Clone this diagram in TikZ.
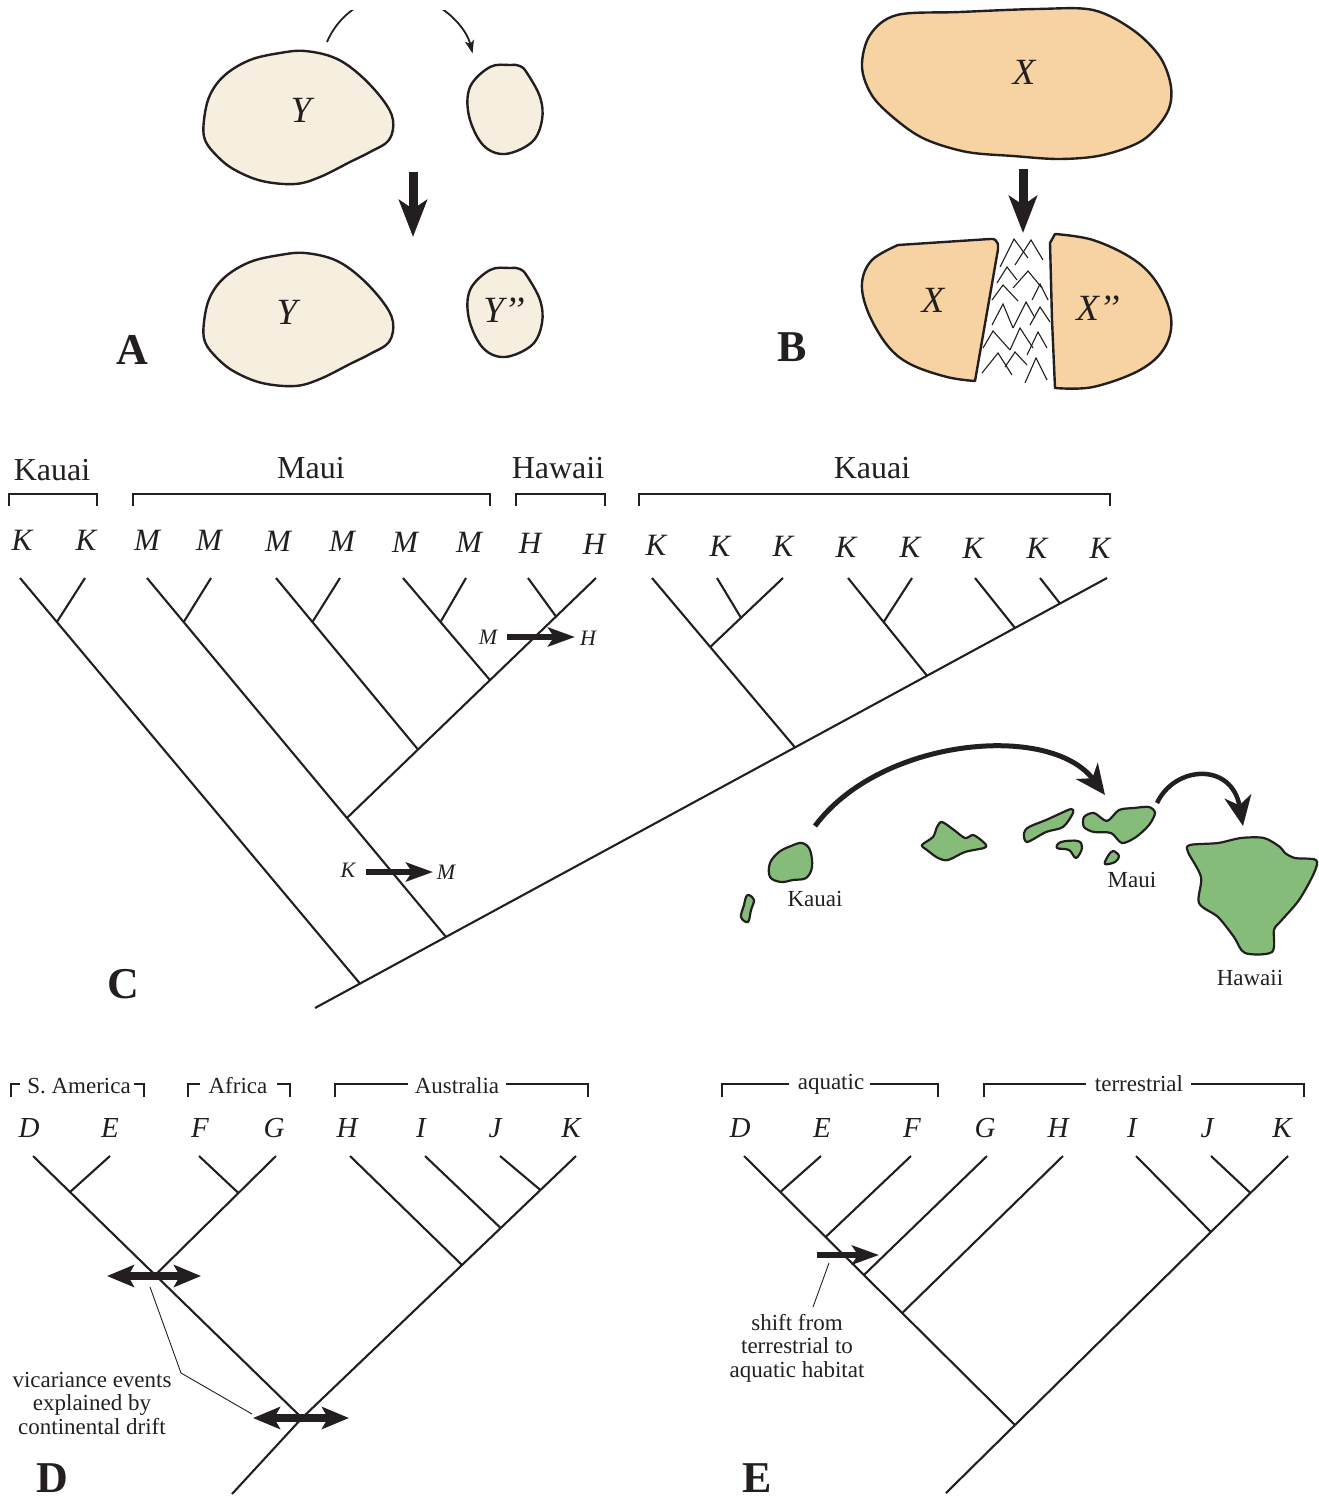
\documentclass[tikz,border=0pt]{standalone}
\usepackage{fontspec}
\setmainfont{Liberation Serif}
\usetikzlibrary{arrows.meta}
\definecolor{ink}{HTML}{231F20}
\definecolor{creamA}{HTML}{F6EEDF}
\definecolor{peachB}{HTML}{F7D3A3}
\definecolor{isle}{HTML}{86BC7A}
\tikzset{
 branch/.style={draw=ink, line width=2.1pt},
 brk/.style={draw=ink, line width=2pt},
 blobA/.style={draw=ink, fill=creamA, line width=2.4pt, line join=round},
 blobB/.style={draw=ink, fill=peachB, line width=2.4pt, line join=round},
 isl/.style={draw=ink, fill=isle, line width=2.2pt, line join=round},
 chev/.style={draw=ink, line width=1.1pt},
 bigdown/.style={draw=ink, line width=9pt, -{Stealth[length=37pt,width=28pt,inset=9pt]}},
 thinarr/.style={draw=ink, line width=1.8pt, -{Stealth[length=13pt,width=9pt,inset=3pt]}},
 migr/.style={draw=ink, line width=5.5pt, -{Stealth[length=27pt,width=19pt,inset=6pt]}},
 dbl/.style={draw=ink, line width=8pt, {Stealth[length=27pt,width=22pt,inset=6pt]}-{Stealth[length=27pt,width=22pt,inset=6pt]}},
 bigcurve/.style={draw=ink, line width=5pt, -{Stealth[length=30pt,width=27pt,inset=9pt]}},
 leader/.style={draw=ink, line width=0.9pt},
 panel/.style={font=\fontsize{44}{44}\selectfont\bfseries},
 blobtext/.style={font=\fontsize{37}{37}\selectfont\itshape},
 hdrC/.style={font=\fontsize{32}{32}\selectfont},
 tipC/.style={font=\fontsize{31}{31}\selectfont\itshape},
 tipD/.style={font=\fontsize{29}{29}\selectfont\itshape},
 smalllab/.style={font=\fontsize{22}{22}\selectfont\itshape},
 lab/.style={font=\fontsize{23}{23}\selectfont},
 note/.style={font=\fontsize{23}{23.5}\selectfont, align=center},
}
\begin{document}
\begin{tikzpicture}[x=1pt,y=-1pt, every node/.style={text=ink, inner sep=0pt}]
\useasboundingbox (0,0) rectangle (1318,1499);

%%%%%%%%%%%%%%%% PANEL A
\draw[blobA] plot[smooth cycle, tension=0.6] coordinates {(205,140) (204,120) (210,95) (225,75) (250,60) (280,53) (305,51) (335,58) (360,75) (383,100) (393,120) (389,140) (370,152) (350,162) (320,177) (295,184) (262,181) (235,170) (218,157)};
\draw[blobA] plot[smooth cycle, tension=0.6] coordinates {(490,67) (510,65) (520,66) (527,73) (540,97) (542,120) (532,142) (505,154) (483,145) (469,116) (470,87)};
\draw[blobA, shift={(0,202)}] plot[smooth cycle, tension=0.6] coordinates {(205,140) (204,120) (210,95) (225,75) (250,60) (280,53) (305,51) (335,58) (360,75) (383,100) (393,120) (389,140) (370,152) (350,162) (320,177) (295,184) (262,181) (235,170) (218,157)};
\draw[blobA, shift={(0,203)}] plot[smooth cycle, tension=0.6] coordinates {(490,67) (510,65) (520,66) (527,73) (540,97) (542,120) (532,142) (505,154) (483,145) (469,116) (470,87)};
\node[blobtext] (yA1) at (301,110) {Y};
\node[blobtext] (yA2) at (287,312) {Y};
\node[blobtext] (yA3) at (504,310) {Y’’};
\begin{scope}
\clip (300,10) rectangle (520,100);
\draw[thinarr] (327,42) arc[start angle=203, end angle=346, radius=77];
\end{scope}
\coordinate (aA1) at (413,172);
\coordinate (aA2) at (413,237);
\draw[bigdown] (aA1) -- (aA2);
\node[panel] (pA) at (132,350) {A};

%%%%%%%%%%%%%%%% PANEL B
\draw[blobB] plot[smooth cycle, tension=0.55] coordinates {(897,15) (960,12) (1037,9) (1093,10) (1133,30) (1160,57) (1171,87) (1167,113) (1143,140) (1103,155) (1060,159) (1013,156) (967,152) (927,140) (900,123) (873,97) (862,67) (870,35)};
\draw[blobB] plot[smooth, tension=0.6] coordinates {(975,381) (947,377) (910,364) (887,345) (868,312) (862,283) (872,260) (898,245)} -- (990,239) .. controls (999,238) and (999,246) .. (997,255) -- cycle;
\draw[blobB] plot[smooth, tension=0.6] coordinates {(1055,234) (1093,240) (1133,259) (1157,283) (1171,317) (1165,347) (1140,370) (1093,387) (1055,388)} -- (1052,320) -- (1050,243) -- cycle;
\foreach \a/\b/\c/\d/\e/\f in {
 1000/267/1014/239/1028/258, 1015/265/1031/240/1043/260,
 997/283/1007/267/1017/280, 1013/288/1028/271/1042/288,
 992/300/1003/285/1018/301, 1032/300/1040/284/1048/300,
 992/325/1003/304/1013/328, 1013/328/1026/302/1035/318, 1030/325/1040/307/1050/322,
 983/348/993/331/1010/350, 1010/350/1020/328/1033/348, 1027/355/1038/332/1047/348,
 982/373/998/353/1012/375, 1005/367/1015/352/1027/365, 1025/383/1036/358/1047/380}
 \draw[chev] (\a,\b) -- (\c,\d) -- (\e,\f);
\node[blobtext] (xB1) at (1024,72) {X};
\node[blobtext] (xB2) at (933,300) {X};
\node[blobtext] (xB3) at (1098,308) {X’’};
\coordinate (aB1) at (1023,169);
\coordinate (aB2) at (1023,233);
\draw[bigdown] (aB1) -- (aB2);
\node[panel] (pB) at (792,347) {B};

%%%%%%%%%%%%%%%% PANEL C
\node[hdrC] (hK1) at (52,470) {Kauai};
\node[hdrC] (hM) at (311,468) {Maui};
\node[hdrC] (hH) at (558,468) {Hawaii};
\node[hdrC] (hK2) at (872,468) {Kauai};
\draw[brk] (9,506) -- (9,494) -- (97,494) -- (97,506);
\draw[brk] (133,506) -- (133,494) -- (490,494) -- (490,506);
\draw[brk] (516,506) -- (516,494) -- (605,494) -- (605,506);
\draw[brk] (639,506) -- (639,494) -- (1110,494) -- (1110,506);

\foreach \x/\y/\t [count=\i] in {22/540/K, 86/540/K, 147/540/M, 209/540/M, 278/541/M, 342/541/M, 405/542/M, 469/542/M, 530/543/H, 594/544/H, 656/545/K, 720/546/K, 783/546/K, 846/547/K, 910/547/K, 973/548/K, 1037/548/K, 1100/548/K}
 \node[tipC] (tc\i) at (\x,\y) {\t};

\coordinate (c1) at (20,578);
\coordinate (c2) at (85,578);
\coordinate (c3) at (147,578);
\coordinate (c4) at (211,578);
\coordinate (c5) at (276,578);
\coordinate (c6) at (340,578);
\coordinate (c7) at (403,578);
\coordinate (c8) at (466,578);
\coordinate (c9) at (528,578);
\coordinate (c10) at (596,578);
\coordinate (c11) at (652,578);
\coordinate (c12) at (717,578);
\coordinate (c13) at (783,578);
\coordinate (c14) at (848,578);
\coordinate (c15) at (912,578);
\coordinate (c16) at (975,578);
\coordinate (c17) at (1040,578);
\coordinate (c18) at (1107,578);
\coordinate (cR0) at (315,1008);
\coordinate (r1) at (360,983.6);
\coordinate (r2) at (446,936.9);
\coordinate (r3) at (795,747.4);
\coordinate (r4) at (927,675.7);
\coordinate (r5) at (1015,628);
\coordinate (r6) at (1060,603.5);
\coordinate (n12) at (56.9,622);
\coordinate (n34) at (183.7,622);
\coordinate (nMH) at (346.9,818);
\coordinate (n5) at (418,749.5);
\coordinate (n56) at (312.4,622);
\coordinate (n7) at (490,680.1);
\coordinate (n78) at (440.5,622);
\coordinate (n9) at (556,616.5);
\coordinate (nK1) at (710.2,647);
\coordinate (nK2) at (741,617.8);
\coordinate (n15) at (883.6,622);

\draw[branch] (cR0) -- (c18);
\draw[branch] (c1) -- (r1);
\draw[branch] (c2) -- (n12);
\draw[branch] (c3) -- (r2);
\draw[branch] (c4) -- (n34);
\draw[branch] (nMH) -- (c10);
\draw[branch] (c5) -- (n5);
\draw[branch] (c6) -- (n56);
\draw[branch] (c7) -- (n7);
\draw[branch] (c8) -- (n78);
\draw[branch] (c9) -- (n9);
\draw[branch] (c11) -- (r3);
\draw[branch] (nK1) -- (c13);
\draw[branch] (c12) -- (nK2);
\draw[branch] (c14) -- (r4);
\draw[branch] (c15) -- (n15);
\draw[branch] (c16) -- (r5);
\draw[branch] (c17) -- (r6);

\node[smalllab] (mhM) at (488,637) {M};
\node[smalllab] (mhH) at (588,638) {H};
\coordinate (mh1) at (507,637);
\coordinate (mh2) at (575,637);
\draw[migr] (mh1) -- (mh2);
\node[smalllab] (kmK) at (348,870) {K};
\node[smalllab] (kmM) at (446,872) {M};
\coordinate (km1) at (366,872);
\coordinate (km2) at (433,872);
\draw[migr] (km1) -- (km2);
\node[panel] (pC) at (123,984) {C};

%%%%%%%%%%%%%%%% MAP
\draw[isl] plot[smooth cycle, tension=0.6] coordinates {(802,843) (810,850) (812,867) (806,878) (793,880) (781,882) (770,877) (770,863) (779,852) (791,846)};
\draw[isl] plot[smooth cycle, tension=0.6] coordinates {(749,895) (754,900) (751,910) (748,922) (741,917) (744,905) (746,897)};
\draw[isl] plot[smooth cycle, tension=0.5] coordinates {(942,822) (954,830) (965,838) (973,835) (981,840) (986,845) (984,848) (965,852) (948,860) (938,858) (927,850) (922,845) (933,837) (937,827)};
\draw[isl] plot[smooth cycle, tension=0.5] coordinates {(1071,809) (1073,813) (1063,827) (1046,832) (1027,842) (1024,833) (1029,827) (1046,820) (1057,815)};
\draw[isl] plot[smooth cycle, tension=0.6] coordinates {(1061,842) (1078,841) (1082,848) (1076,858) (1069,850) (1057,848)};
\draw[isl] plot[smooth cycle, tension=0.5] coordinates {(1084,817) (1094,813) (1107,821) (1119,810) (1134,808) (1149,807) (1155,813) (1149,825) (1136,837) (1122,843) (1111,833) (1094,832) (1084,827)};
\draw[isl] plot[smooth cycle, tension=0.6] coordinates {(1113,851) (1119,856) (1115,862) (1105,864) (1108,856)};
\draw[isl] plot[smooth cycle, tension=0.5] coordinates {(1190,845) (1218,843) (1241,838) (1264,838) (1280,847) (1285,853) (1295,858) (1316,860) (1314,873) (1299,900) (1280,922) (1274,930) (1272,952) (1245,953) (1234,937) (1218,917) (1199,903) (1201,877) (1188,852)};
\node[lab] (mKauai) at (815,899) {Kauai};
\node[lab] (mMaui) at (1132,880) {Maui};
\node[lab] (mHawaii) at (1250,978) {Hawaii};
\coordinate (cv1) at (815,826);
\coordinate (cv2) at (1105,795);
\draw[bigcurve] (cv1) .. controls (880,738) and (1050,722) .. (cv2);
\coordinate (cv3) at (1157,803);
\coordinate (cv4) at (1243,826);
\draw[bigcurve, line width=4.5pt] (cv3) .. controls (1175,765) and (1232,762) .. (cv4);

%%%%%%%%%%%%%%%% PANEL D
\draw[brk] (11,1097) -- (11,1084) -- (20,1084);
\node[lab] (hSA) at (79,1086) {S. America};
\draw[brk] (134,1084) -- (144,1084) -- (144,1097);
\draw[brk] (188,1097) -- (188,1084) -- (200,1084);
\node[lab] (hAf) at (238,1086) {Africa};
\draw[brk] (277,1084) -- (290,1084) -- (290,1097);
\draw[brk] (335,1097) -- (335,1084) -- (408,1084);
\node[lab] (hAu) at (457,1086) {Australia};
\draw[brk] (506,1084) -- (588,1084) -- (588,1097);

\foreach \x/\t [count=\i] in {29/D, 110/E, 200/F, 274/G, 347/H, 421/I, 495/J, 571/K}
 \node[tipD] (td\i) at (\x,1128) {\t};

\coordinate (dD) at (33,1156);
\coordinate (dE) at (110,1156);
\coordinate (dF) at (199,1156);
\coordinate (dG) at (276,1156);
\coordinate (dH) at (350,1156);
\coordinate (dI) at (425,1156);
\coordinate (dJ) at (500,1156);
\coordinate (dK) at (576,1156);
\coordinate (dR) at (302,1418);
\coordinate (dB) at (232,1494);
\coordinate (dDE) at (70,1192);
\coordinate (dDG) at (155.2,1275);
\coordinate (dFG) at (238.4,1193);
\coordinate (dJK) at (540.4,1190);
\coordinate (dIK) at (500.7,1228);
\coordinate (dHK) at (462,1265);
\draw[branch] (dD) -- (dR);
\draw[branch] (dE) -- (dDE);
\draw[branch] (dG) -- (dDG);
\draw[branch] (dF) -- (dFG);
\draw[branch] (dK) -- (dR);
\draw[branch] (dJ) -- (dJK);
\draw[branch] (dI) -- (dIK);
\draw[branch] (dH) -- (dHK);
\draw[branch] (dR) -- (dB);

\coordinate (v1a) at (107,1276);
\coordinate (v1b) at (201,1276);
\coordinate (v2a) at (253,1418);
\coordinate (v2b) at (349,1418);
\draw[dbl] (v1a) -- (v1b);
\draw[dbl] (v2a) -- (v2b);
\coordinate (ld1) at (150,1287);
\coordinate (ld2) at (181,1373);
\coordinate (ld3) at (252,1414);
\draw[leader] (ld1) -- (ld2) -- (ld3);
\node[note] (vic) at (92,1403) {vicariance events\\explained by\\continental drift};
\node[panel] (pD) at (52,1478) {D};

%%%%%%%%%%%%%%%% PANEL E
\draw[brk] (722,1097) -- (722,1084) -- (789,1084);
\node[lab] (hAq) at (831,1084) {aquatic};
\draw[brk] (870,1084) -- (938,1084) -- (938,1097);
\draw[brk] (984,1097) -- (984,1084) -- (1086,1084);
\node[lab] (hTe) at (1139,1084) {terrestrial};
\draw[brk] (1191,1084) -- (1304,1084) -- (1304,1097);

\foreach \x/\t [count=\i] in {740/D, 822/E, 912/F, 985/G, 1058/H, 1132/I, 1207/J, 1282/K}
 \node[tipD] (te\i) at (\x,1128) {\t};

\coordinate (eD) at (744,1156);
\coordinate (eE) at (821,1156);
\coordinate (eF) at (911,1156);
\coordinate (eG) at (987,1156);
\coordinate (eH) at (1063,1156);
\coordinate (eI) at (1136,1156);
\coordinate (eJ) at (1211,1156);
\coordinate (eK) at (1288,1156);
\coordinate (eR) at (1015,1425);
\coordinate (eB) at (946,1493);
\coordinate (eDE) at (780.3,1192);
\coordinate (eDF) at (825.6,1237);
\coordinate (eDG) at (863.9,1275);
\coordinate (eDH) at (902.2,1313);
\coordinate (eJK) at (1250.4,1193);
\coordinate (eIK) at (1210.9,1232);
\draw[branch] (eD) -- (eR);
\draw[branch] (eE) -- (eDE);
\draw[branch] (eF) -- (eDF);
\draw[branch] (eG) -- (eDG);
\draw[branch] (eH) -- (eDH);
\draw[branch] (eK) -- (eR);
\draw[branch] (eJ) -- (eJK);
\draw[branch] (eI) -- (eIK);
\draw[branch] (eR) -- (eB);

\coordinate (sh1) at (817,1255);
\coordinate (sh2) at (879,1255);
\draw[migr] (sh1) -- (sh2);
\coordinate (le1) at (829,1263);
\coordinate (le2) at (813,1307);
\draw[leader] (le1) -- (le2);
\node[note] (shift) at (797,1348) {shift from\\terrestrial to\\aquatic habitat};
\node[panel] (pE) at (757,1478) {E};

\end{tikzpicture}
\end{document}
